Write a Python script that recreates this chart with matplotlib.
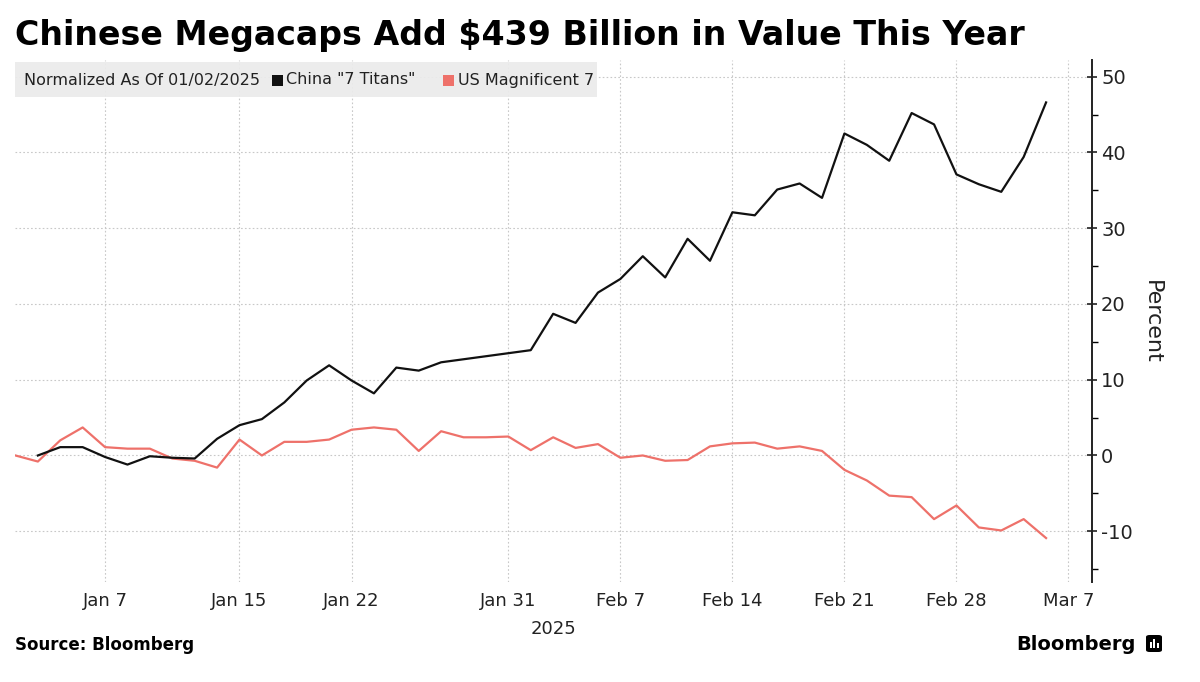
import numpy as np
import pandas as pd
import matplotlib
matplotlib.use('Agg')
from matplotlib import pyplot as plt
from matplotlib.patches import Rectangle, FancyBboxPatch

# trading-day axis (Bloomberg spaces points evenly, no weekend gaps)
days = pd.bdate_range('2024-12-31', '2025-03-07').drop(pd.Timestamp('2025-01-01'))

# percent change, normalized as of 01/02/2025
china = [np.nan, 0.0, 1.1, 1.1, -0.2, -1.2, -0.1, -0.3, -0.4, 2.2,
         4.0, 4.8, 7.0, 9.9, 11.9, 9.9, 8.2, 11.6, 11.2, 12.3,
         np.nan, np.nan, np.nan, 13.9, 18.7, 17.5, 21.5, 23.3, 26.3, 23.5,
         28.6, 25.7, 32.1, 31.7, 35.1, 35.9, 34.0, 42.5, 41.0, 38.9,
         45.2, 43.7, 37.1, 35.8, 34.8, 39.4, 46.6]
us_mag7 = [0.0, -0.8, 2.0, 3.7, 1.1, 0.9, 0.9, -0.4, -0.7, -1.6,
           2.1, 0.0, 1.8, 1.8, 2.1, 3.4, 3.7, 3.4, 0.6, 3.2,
           2.4, 2.4, 2.5, 0.7, 2.4, 1.0, 1.5, -0.3, 0.0, -0.7,
           -0.6, 1.2, 1.6, 1.7, 0.9, 1.2, 0.6, -1.9, -3.3, -5.3,
           -5.5, -8.4, -6.6, -9.5, -9.9, -8.4, -10.9]

tick_dates = ['2025-01-07', '2025-01-15', '2025-01-22', '2025-01-31', '2025-02-07',
              '2025-02-14', '2025-02-21', '2025-02-28', '2025-03-07']
tick_labels = ['Jan 7', 'Jan 15', 'Jan 22', 'Jan 31', 'Feb 7',
               'Feb 14', 'Feb 21', 'Feb 28', 'Mar 7']
y_ticks = [-10, 0, 10, 20, 30, 40, 50]

black = '#111111'
red = '#ee716a'
grid_col = '#c8c8c8'

plt.rcParams['font.family'] = ['DejaVu Sans']
plt.rcParams['axes.unicode_minus'] = False

W, H = 1200, 682
fig = plt.figure(figsize=(12, 6.82), dpi=100)
ax = fig.add_axes([15 / W, 1 - 582 / H, (1092 - 15) / W, (582 - 60) / H])

# plot the series against the trading-day index
x = np.arange(len(china))
cn = np.array(china, dtype=float)
ok = ~np.isnan(cn)
ax.plot(x[ok], cn[ok], color=black, linewidth=1.6, zorder=3)
ax.plot(x, us_mag7, color=red, linewidth=1.6, zorder=2)

ax.set_xlim(-0.02, 48.05)
ax.set_ylim(-16.7, 52.2)

tick_pos = [days.get_loc(pd.Timestamp(d)) for d in tick_dates]
ax.set_xticks(tick_pos)
ax.set_xticklabels(tick_labels, fontsize=13, color='#222222')
ax.tick_params(axis='x', length=0, pad=7)

ax.yaxis.tick_right()
ax.set_yticks(y_ticks)
ax.set_yticks(np.arange(-15, 50, 10), minor=True)
ax.tick_params(axis='y', which='major', direction='inout', length=7, width=1.2,
               labelsize=14, pad=3, colors='#222222')
ax.tick_params(axis='y', which='minor', direction='out', length=4, width=1)

for s in ['top', 'left', 'bottom']:
    ax.spines[s].set_visible(False)
ax.spines['right'].set_linewidth(1.4)
ax.spines['right'].set_color('#222222')

ax.grid(True, which='major', linestyle=(0, (1.5, 2)), color=grid_col, linewidth=0.8)
ax.set_axisbelow(True)

ax.text(0.5, -0.072, '2025', transform=ax.transAxes, ha='center', va='top',
        fontsize=13, color='#222222')

fig.text(1152 / W, 1 - 322 / H, 'Percent', rotation=270, ha='center', va='center',
         fontsize=16, color='#222222')

# title, scaled to span the same width as the original
title = fig.text(15 / W, 1 - 35 / H, 'Chinese Megacaps Add $439 Billion in Value This Year',
                 fontsize=26, fontweight='bold', ha='left', va='center', color='black')
r = fig.canvas.get_renderer()
w = title.get_window_extent(renderer=r).width
title.set_fontsize(26 * 1010 / w)

# legend strip
fig.add_artist(Rectangle((15 / W, 1 - 97 / H), 582 / W, 35 / H, transform=fig.transFigure,
                         facecolor='#ebebeb', edgecolor='none', alpha=0.92, zorder=4))
ly = 1 - 80 / H
fig.text(24 / W, ly, 'Normalized As Of 01/02/2025', fontsize=11.5, va='center',
         color='#222222', zorder=5)
fig.add_artist(Rectangle((272 / W, 1 - 86 / H), 11 / W, 11 / H, transform=fig.transFigure,
                         facecolor=black, edgecolor='none', zorder=5))
fig.text(286 / W, ly, 'China "7 Titans"', fontsize=11.5, va='center', color='#222222', zorder=5)
fig.add_artist(Rectangle((443 / W, 1 - 86 / H), 11 / W, 11 / H, transform=fig.transFigure,
                         facecolor=red, edgecolor='none', zorder=5))
fig.text(458 / W, ly, 'US Magnificent 7', fontsize=11.5, va='center', color='#222222', zorder=5)

# footer
fig.text(15 / W, 1 - 645 / H, 'Source: Bloomberg', fontsize=12, fontweight='bold',
         va='center', color='black')
fig.text(1136 / W, 1 - 644 / H, 'Bloomberg', fontsize=14, fontweight='bold',
         ha='right', va='center', color='black')
fig.add_artist(FancyBboxPatch((1146 / W, 1 - 652 / H), 16 / W, 17 / H,
                              boxstyle='round,pad=0,rounding_size=0.003',
                              transform=fig.transFigure, facecolor='black', edgecolor='none'))
for i, hb in enumerate([6, 9, 5]):
    fig.add_artist(Rectangle(((1149.5 + i * 3.5) / W, 1 - 648 / H), 2 / W, hb / H,
                             transform=fig.transFigure, facecolor='white', edgecolor='none',
                             zorder=6))

fig.savefig('out.png', dpi=100)
